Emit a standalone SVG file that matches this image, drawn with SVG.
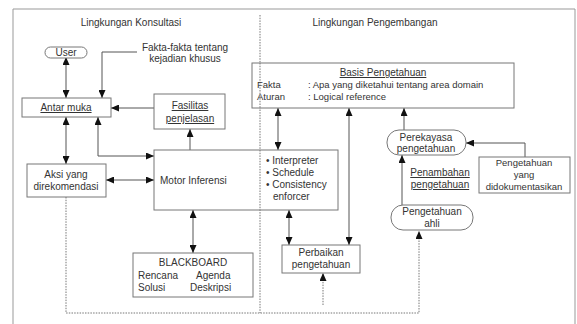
<svg xmlns="http://www.w3.org/2000/svg" width="577" height="324" viewBox="0 0 577 324">
<defs>
<marker id="ah" markerUnits="userSpaceOnUse" markerWidth="8" markerHeight="7" refX="8" refY="3.5" orient="auto-start-reverse">
<path d="M0,0 L8,3.5 L0,7 z" fill="#111"/>
</marker>
</defs>
<style>
text{font-family:"Liberation Sans",Arial,sans-serif;font-size:10px;fill:#333}
.s{font-size:9.5px}
.c{text-anchor:middle}
.u{text-decoration:underline}
.box{fill:#fff;stroke:#777;stroke-width:1}
.frame{fill:none;stroke:#999;stroke-width:1}
.ln{fill:none;stroke:#555;stroke-width:1}
.dot{fill:none;stroke:#777;stroke-width:1;stroke-dasharray:1.5 1.2}
</style>
<rect width="577" height="324" fill="#fff"/>
<path class="frame" d="M13,324 V9 H575 V324"/>
<text class="c" x="131" y="26">Lingkungan Konsultasi</text>
<text class="c" x="375" y="26">Lingkungan Pengembangan</text>
<text class="c" x="185" y="51">Fakta-fakta tentang</text>
<text class="c" x="185" y="62">kejadian khusus</text>
<text class="c u" x="440" y="176">Penambahan</text>
<text class="c u" x="440" y="188">pengetahuan</text>
<g id="connectors">
<path class="dot" d="M260,15 V313"/>
<path class="dot" d="M66,197 V313 H419 V231" marker-end="url(#ah)"/>
<path class="dot" d="M323,305 V273" marker-end="url(#ah)"/>
<path class="ln" d="M66,57 V98" marker-start="url(#ah)" marker-end="url(#ah)"/>
<path class="ln" d="M137,52 H102 V98" marker-end="url(#ah)"/>
<path class="ln" d="M154,108 H111" marker-end="url(#ah)"/>
<path class="ln" d="M190,150 V129" marker-end="url(#ah)"/>
<path class="ln" d="M66,117 V164" marker-start="url(#ah)" marker-end="url(#ah)"/>
<path class="ln" d="M98,117 V156 H154" marker-start="url(#ah)" marker-end="url(#ah)"/>
<path class="ln" d="M106,180 H154" marker-start="url(#ah)" marker-end="url(#ah)"/>
<path class="ln" d="M193,210 V253" marker-start="url(#ah)" marker-end="url(#ah)"/>
<path class="ln" d="M278,108 V150" marker-start="url(#ah)" marker-end="url(#ah)"/>
<path class="ln" d="M289,210 V245" marker-start="url(#ah)" marker-end="url(#ah)"/>
<path class="ln" d="M349,245 V108" marker-start="url(#ah)" marker-end="url(#ah)"/>
<path class="ln" d="M404,130 V108" marker-end="url(#ah)"/>
<path class="ln" d="M525,157 V143 H466" marker-end="url(#ah)"/>
<path class="ln" d="M402,205 V155" marker-end="url(#ah)"/>
</g>
<g id="user">
<rect class="box" x="45" y="47" width="42" height="11" rx="5.5"/>
<text class="c" x="66" y="56">User</text>
</g>
<g id="antar-muka">
<rect class="box" x="22" y="98" width="89" height="19"/>
<text class="c u" x="66" y="111">Antar muka</text>
</g>
<g id="fasilitas">
<rect class="box" x="154" y="94" width="71" height="35"/>
<text class="c u" x="190" y="109">Fasilitas</text>
<text class="c u" x="190" y="122">penjelasan</text>
</g>
<g id="aksi">
<rect class="box" x="27" y="164" width="79" height="33"/>
<text class="c" x="66" y="178">Aksi yang</text>
<text class="c" x="66" y="190">direkomendasi</text>
</g>
<g id="motor">
<rect class="box" x="154" y="150" width="184" height="60"/>
<path class="dot" d="M260,150 V210"/>
<text x="160" y="184">Motor Inferensi</text>
<text x="266" y="164">• Interpreter</text>
<text x="266" y="176">• Schedule</text>
<text x="266" y="188">• Consistency</text>
<text x="273" y="200">enforcer</text>
</g>
<g id="blackboard">
<rect class="box" x="133" y="253" width="120" height="44"/>
<text class="c" x="193" y="266">BLACKBOARD</text>
<text x="138" y="279">Rencana</text>
<text x="196" y="279">Agenda</text>
<text x="138" y="291">Solusi</text>
<text x="190" y="291">Deskripsi</text>
</g>
<g id="basis">
<rect class="box" x="252" y="63" width="262" height="45"/>
<path class="dot" d="M260,63 V108"/>
<text class="c u" x="383" y="76">Basis Pengetahuan</text>
<text class="s" x="257" y="88">Fakta</text>
<text class="s" x="257" y="100">Aturan</text>
<text class="s" x="308" y="88">: Apa yang diketahui  tentang area domain</text>
<text class="s" x="308" y="100">: Logical reference</text>
</g>
<g id="perbaikan">
<rect class="box" x="282" y="245" width="78" height="28"/>
<text class="c" x="321" y="256">Perbaikan</text>
<text class="c" x="321" y="268">pengetahuan</text>
</g>
<g id="perekayasa">
<rect class="box" x="387" y="130" width="79" height="25" rx="12"/>
<text class="c" x="426" y="141">Perekayasa</text>
<text class="c" x="426" y="152">pengetahuan</text>
</g>
<g id="dokumentasi">
<rect class="box" x="479" y="157" width="91" height="36"/>
<text class="c s" x="524" y="166">Pengetahuan</text>
<text class="c s" x="524" y="178">yang</text>
<text class="c s" x="524" y="190">didokumentasikan</text>
</g>
<g id="ahli">
<rect class="box" x="391" y="205" width="82" height="25" rx="12"/>
<text class="c" x="432" y="215">Pengetahuan</text>
<text class="c" x="432" y="227">ahli</text>
</g>
</svg>
